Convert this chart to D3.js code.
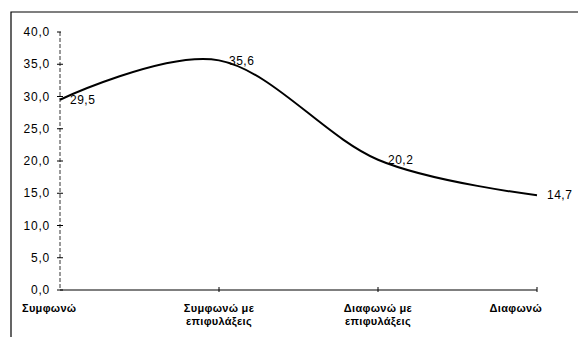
<!DOCTYPE html>
<html lang="el">
<head>
    <meta charset="UTF-8" />
    <title>Συμφωνία - γραμμή</title>
    <script src="https://d3js.org/d3.v7.min.js"></script>
    <style>
        body { margin: 0; background: #fff; }
        svg text { font-family: "Liberation Sans", Arial, sans-serif; fill: #000; }
    </style>
</head>
<body>
    <script>
        // data
        var categories = ["Συμφωνώ", "Συμφωνώ με επιφυλάξεις", "Διαφωνώ με επιφυλάξεις", "Διαφωνώ"];
        var labelLines = [["Συμφωνώ"], ["Συμφωνώ με", "επιφυλάξεις"], ["Διαφωνώ με", "επιφυλάξεις"], ["Διαφωνώ"]];
        var values = [29.5, 35.6, 20.2, 14.7];
        var yTicks = [0, 5, 10, 15, 20, 25, 30, 35, 40];

        var w = 578;
        var h = 337;

        var svg = d3.select("body")
            .append("svg")
            .attr("width", w)
            .attr("height", h);

        // frame (scanned page border)
        svg.append("path")
            .attr("d", "M11," + h + " V12 H" + w)
            .attr("fill", "none")
            .attr("stroke", "#000")
            .attr("stroke-width", 1.2);

        // scales
        var xScale = d3.scalePoint()
            .domain(categories)
            .range([60, 537]);

        var yScale = d3.scaleLinear()
            .domain([0, 40])
            .range([290, 32]);

        var fmt = function(d) { return d3.format(".1f")(d).replace(".", ","); };

        // y axis
        var yAxis = svg.append("g").attr("class", "y-axis");
        yAxis.append("line")
            .attr("x1", xScale(categories[0])).attr("x2", xScale(categories[0]))
            .attr("y1", yScale(40)).attr("y2", yScale(0))
            .attr("stroke", "#333")
            .attr("stroke-dasharray", "4,2");
        yAxis.selectAll(".tick")
            .data(yTicks)
            .enter()
            .append("line")
            .attr("x1", xScale(categories[0]) - 3)
            .attr("x2", function(d) { return d === 40 ? xScale(categories[0]) + 1 : xScale(categories[0]) + 3; })
            .attr("y1", function(d) { return yScale(d); })
            .attr("y2", function(d) { return yScale(d); })
            .attr("stroke", "#000");
        yAxis.selectAll("text")
            .data(yTicks)
            .enter()
            .append("text")
            .attr("x", 50)
            .attr("y", function(d) { return yScale(d); })
            .attr("dy", "0.35em")
            .attr("text-anchor", "end")
            .attr("font-size", 12)
            .attr("letter-spacing", 0.8)
            .text(fmt);

        // x axis
        var xAxis = svg.append("g").attr("class", "x-axis");
        xAxis.append("line")
            .attr("x1", xScale(categories[0])).attr("x2", xScale(categories[3]))
            .attr("y1", yScale(0)).attr("y2", yScale(0))
            .attr("stroke", "#000")
            .attr("stroke-width", 1.2);
        xAxis.selectAll(".tick")
            .data(categories.slice(1))
            .enter()
            .append("line")
            .attr("x1", function(d) { return xScale(d); })
            .attr("x2", function(d) { return xScale(d); })
            .attr("y1", yScale(0) - 3)
            .attr("y2", yScale(0) + 2)
            .attr("stroke", "#000");

        var xLabels = xAxis.selectAll(".xlab")
            .data(categories)
            .enter()
            .append("text")
            .attr("class", "xlab")
            .attr("x", function(d) { return xScale(d); })
            .attr("y", yScale(0) + 22)
            .attr("text-anchor", "middle")
            .attr("font-size", 11)
            .attr("font-weight", "bold")
            .attr("letter-spacing", 0.3);
        xLabels.each(function(d, i) {
            var t = d3.select(this);
            labelLines[i].forEach(function(line, j) {
                t.append("tspan")
                    .attr("x", xScale(d))
                    .attr("dy", j === 0 ? 0 : 13)
                    .text(line);
            });
        });
        // keep first and last labels inside the frame like the original
        xLabels.each(function(d, i) {
            var bb = this.getBBox();
            var shift = 0;
            if (i === 0) shift = 22 - bb.x;
            if (i === categories.length - 1) shift = 542 - (bb.x + bb.width);
            if (shift !== 0) {
                d3.select(this).selectAll("tspan").attr("x", xScale(d) + shift);
            }
        });

        // smoothed line
        var line = d3.line()
            .x(function(d, i) { return xScale(categories[i]); })
            .y(function(d) { return yScale(d); })
            .curve(d3.curveCardinal.tension(0));

        svg.append("path")
            .datum(values)
            .attr("d", line)
            .attr("fill", "none")
            .attr("stroke", "#000")
            .attr("stroke-width", 2);

        // value labels
        svg.selectAll(".vlab")
            .data(values)
            .enter()
            .append("text")
            .attr("class", "vlab")
            .attr("x", function(d, i) { return xScale(categories[i]) + 10; })
            .attr("y", function(d) { return yScale(d); })
            .attr("dy", "0.35em")
            .attr("font-size", 12)
            .attr("letter-spacing", 0.5)
            .text(fmt);
    </script>
</body>
</html>
